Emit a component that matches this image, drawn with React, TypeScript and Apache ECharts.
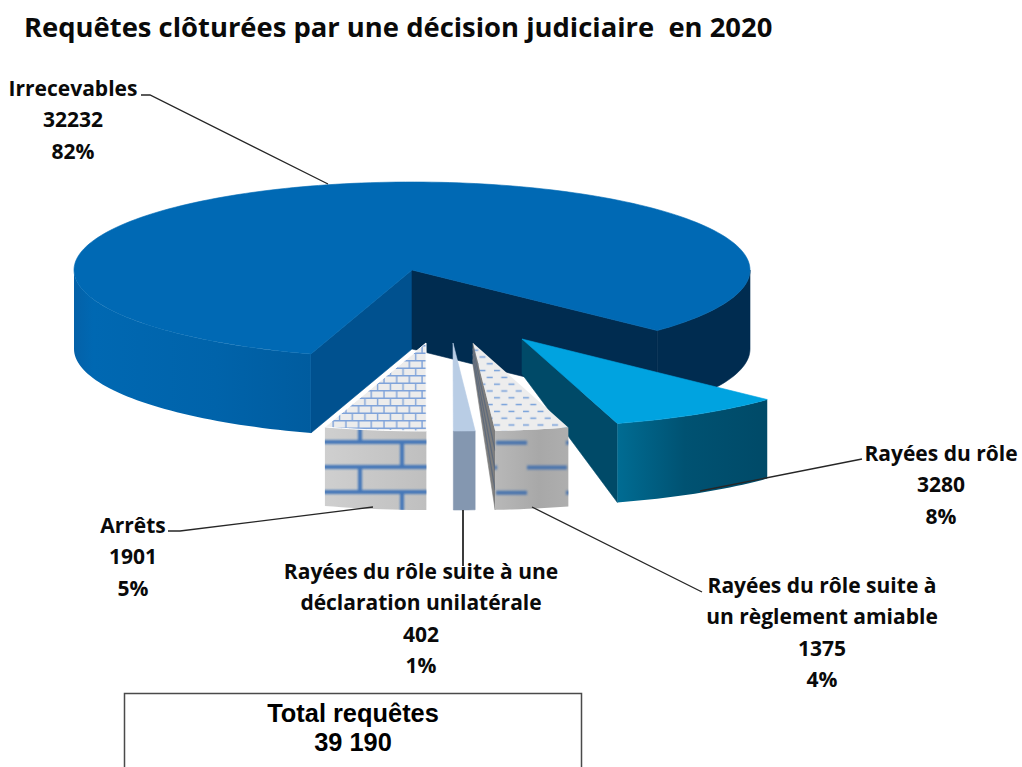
import React, { useEffect, useRef } from "react";
import * as echarts from "echarts";

const chartTitle = "Requêtes clôturées par une décision judiciaire  en 2020";
const sliceNames = [
  "Irrecevables",
  "Rayées du rôle",
  "Rayées du rôle suite à\nun règlement amiable",
  "Rayées du rôle suite à une\ndéclaration unilatérale",
  "Arrêts",
];
const sliceValues = [32232, 3280, 1375, 402, 1901];
const slicePercents = ["82%", "8%", "4%", "1%", "5%"];
const totalLabel = "Total requêtes";
const totalValue = "39 190";

const FONT = '"Open Sans", sans-serif';
const CX = 412, CY = 270, RX = 338, RY = 88, DEPTH = 79;
const START_ANGLE = 107.4;

const svgUrl = (w: number, h: number, body: string) =>
  "data:image/svg+xml," +
  encodeURIComponent(`<svg xmlns="http://www.w3.org/2000/svg" width="${w}" height="${h}">${body}</svg>`);

const pattern = (image: string, w: number, h: number) => ({
  image, repeat: "repeat", imageWidth: w, imageHeight: h,
});

const BLUR = '<defs><filter id="b" filterUnits="userSpaceOnUse" x="-10" y="-10" width="120" height="90"><feGaussianBlur stdDeviation="0.9"/></filter></defs>';

const smallBricks = pattern(svgUrl(25.4, 15,
  '<rect width="25.4" height="15" fill="#ececec"/>' +
  '<path d="M0 .7H25.4M0 8.2H25.4M3 .7V8.2M15.7 .7V8.2M9.35 8.2V15M22.05 8.2V15" stroke="#7fa3da" stroke-width="1.4" fill="none"/>'), 25.4, 15);

const bigBricks = pattern(svgUrl(84, 50,
  BLUR + '<g filter="url(#b)" stroke="#4577b8" stroke-width="4" fill="none">' +
  '<path d="M-5 17H89M-5 42H89M24 17V42M66 -8V17M66 42V67"/></g>'), 84, 50);

const smallDashes = pattern(svgUrl(14.5, 13.6,
  '<rect width="14.5" height="13.6" fill="#ededed"/>' +
  '<path d="M1 3.4H7M8.25 10.2H14.25" stroke="#76a0da" stroke-width="1.6" fill="none"/>'), 14.5, 13.6);

const bigDashes = pattern(svgUrl(70, 50,
  BLUR + '<g filter="url(#b)" stroke="#4a74ad" stroke-width="4" fill="none">' +
  '<path d="M6 42.7H37M37 17.5H75M-5 17.5H7"/></g>'), 70, 50);

const hGrad = (stops: [number, string][]) =>
  new echarts.graphic.LinearGradient(0, 0, 1, 0, stops.map(([offset, color]) => ({ offset, color })));

type Look = {
  top: any; topOverlayStroke?: string;
  startWall?: any; endWall?: any;
  outerLeft?: any; outerRight?: any; outerOverlay?: any;
  offset: [number, number];
  innerDepth: number;
  wallLines?: number;
};

const looks: Look[] = [
  {
    top: "#0069b4", startWall: "#00518f", endWall: "#002c50",
    outerLeft: hGrad([[0, "#0461a8"], [0.08, "#0068b2"], [0.6, "#0063aa"], [1, "#005c9f"]]),
    outerRight: "#002c50", offset: [0, 0], innerDepth: DEPTH,
  },
  {
    top: "#00a3e0", endWall: "#004a68",
    outerLeft: hGrad([[0, "#006c93"], [0.45, "#005272"], [1, "#004a68"]]),
    offset: [110, 69], innerDepth: 35,
  },
  {
    top: smallDashes, endWall: "#7e7e7e",
    outerLeft: hGrad([[0, "#b8b8b8"], [0.6, "#a8a8a8"], [1, "#aeaeae"]]), outerOverlay: bigDashes,
    offset: [61, 73], innerDepth: 22, wallLines: 3,
  },
  {
    top: "#b9cde5", outerLeft: "#8497b0", offset: [41, 73], innerDepth: 0,
  },
  {
    top: smallBricks, topOverlayStroke: "#ffffff",
    outerLeft: hGrad([[0, "#cfcfcf"], [1, "#bfbfbf"]]), outerOverlay: bigBricks,
    offset: [14, 73], innerDepth: 0,
  },
];

const labelLayout = [
  { x: 73, y: 88 },
  { x: 941, y: 453 },
  { x: 822, y: 585 },
  { x: 421, y: 571 },
  { x: 133, y: 525 },
];
const LINE_H = 31.3;

const leaders: number[][][] = [
  [[141, 95], [150, 95], [328, 184]],
  [[862, 459], [700, 491]],
  [[532, 507], [702, 592]],
  [[463, 510], [463, 566]],
  [[168, 531], [180, 531], [373, 507]],
];

function pt(deg: number, ox: number, oy: number, dz = 0) {
  const r = (deg * Math.PI) / 180;
  return [CX + ox + RX * Math.cos(r), CY + oy + RY * Math.sin(r) + dz];
}
function arc(a0: number, a1: number, ox: number, oy: number, dz = 0) {
  const n = Math.max(2, Math.ceil((a1 - a0) / 1.5));
  const out: number[][] = [];
  for (let i = 0; i <= n; i++) out.push(pt(a0 + ((a1 - a0) * i) / n, ox, oy, dz));
  return out;
}

const total = sliceValues.reduce((a, b) => a + b, 0);
const cumulative = sliceValues.map((_, i) => sliceValues.slice(0, i).reduce((a, b) => a + b, 0));

function renderSlice(params: any, api: any) {
  const i = params.dataIndex;
  const value = api.value(0);
  const look = looks[i];
  const [ox, oy] = look.offset;
  // slices run clockwise on screen from START_ANGLE; the smaller ones wrap past 360
  const a0 = START_ANGLE + (cumulative[i] / total) * 360;
  const a1 = a0 + (value / total) * 360;
  const center = [CX + ox, CY + oy];
  const kids: any[] = [];
  const poly = (points: number[][], fill: any, extra: any = {}) =>
    kids.push({
      type: "polygon", shape: { points },
      style: { fill, ...(typeof fill === "string" ? { stroke: fill, lineWidth: 0.6 } : {}), ...extra },
    });

  const wall = (deg: number, fill: any) => {
    if (!fill) return;
    const e = pt(deg, ox, oy);
    const b = pt(deg, ox, oy, DEPTH);
    const tipBottom = [center[0], center[1] + look.innerDepth];
    poly([center, e, b, tipBottom], fill);
    for (let k = 1; k <= (look.wallLines || 0); k++) {
      const f = k / ((look.wallLines || 0) + 1);
      kids.push({
        type: "line",
        shape: {
          x1: center[0], y1: center[1] + look.innerDepth * f,
          x2: e[0] + (b[0] - e[0]) * f, y2: e[1] + (b[1] - e[1]) * f,
        },
        style: { stroke: "#5f6b7c", lineWidth: 1.2 },
      });
    }
  };
  wall(a0, look.startWall);
  wall(a1, look.endWall);

  const front = (from: number, to: number, fill: any, overlay?: any) => {
    if (to <= from || !fill) return;
    const pts = [...arc(from, to, ox, oy), ...arc(from, to, ox, oy, DEPTH).reverse()];
    poly(pts, fill);
    if (overlay) poly(pts, overlay);
  };
  // Only the part of the rim facing the viewer (0-180 degrees) is drawn.
  front(Math.max(a0, 360), Math.min(a1, 540), look.outerRight || look.outerLeft, look.outerOverlay);
  front(Math.max(a0, 0), Math.min(a1, 180), look.outerLeft, look.outerOverlay);

  poly([center, ...arc(a0, a1, ox, oy)], look.top,
    look.topOverlayStroke ? { stroke: look.topOverlayStroke, lineWidth: 1 } : {});

  return { type: "group", children: kids };
}

export default function App() {
  const ref = useRef<HTMLDivElement>(null);
  useEffect(() => {
    const chart = echarts.init(ref.current!, null, { renderer: "svg" });
    const labels: any[] = [];
    sliceNames.forEach((name, i) => {
      const lines = [...name.split("\n"), String(sliceValues[i]), slicePercents[i]];
      lines.forEach((t, k) => {
        labels.push({
          type: "text", z: 10, x: labelLayout[i].x, y: labelLayout[i].y + k * LINE_H,
          style: { text: t, fill: "#0a0a0a", font: `700 21px ${FONT}`, textAlign: "center", textVerticalAlign: "middle" },
        });
      });
    });
    chart.setOption({
      animation: false,
      backgroundColor: "#ffffff",
      title: {
        text: chartTitle, left: 19, top: 8,
        textStyle: { fontFamily: FONT, fontWeight: 700, fontSize: 27.4, color: "#0a0a0a" },
      },
      series: [{
        type: "custom",
        coordinateSystem: "none",
        silent: true,
        clip: false,
        renderItem: renderSlice,
        data: sliceValues.map((v, i) => ({ name: sliceNames[i], value: [v] })),
      }],
      graphic: [
        ...leaders.map((points, i) => ({
          type: "polyline", z: 9, shape: { points },
          style: { stroke: "#262626", lineWidth: i === 3 ? 1.8 : 1.3, fill: "none" },
        })),
        ...labels,
        {
          type: "rect", z: 9, shape: { x: 124.5, y: 693.5, width: 457, height: 100 },
          style: { stroke: "#4a4a4a", lineWidth: 1.5, fill: "#ffffff" },
        },
        {
          type: "text", z: 10, x: 353, y: 713,
          style: { text: totalLabel, fill: "#000", font: '700 25.4px "Liberation Sans", Arial, sans-serif', textAlign: "center", textVerticalAlign: "middle" },
        },
        {
          type: "text", z: 10, x: 353, y: 742,
          style: { text: totalValue, fill: "#000", font: '700 25.4px "Liberation Sans", Arial, sans-serif', textAlign: "center", textVerticalAlign: "middle" },
        },
      ],
    });
    return () => chart.dispose();
  }, []);
  return <div ref={ref} style={{ position: "fixed", left: 0, top: 0, width: 1022, height: 767 }} />;
}
